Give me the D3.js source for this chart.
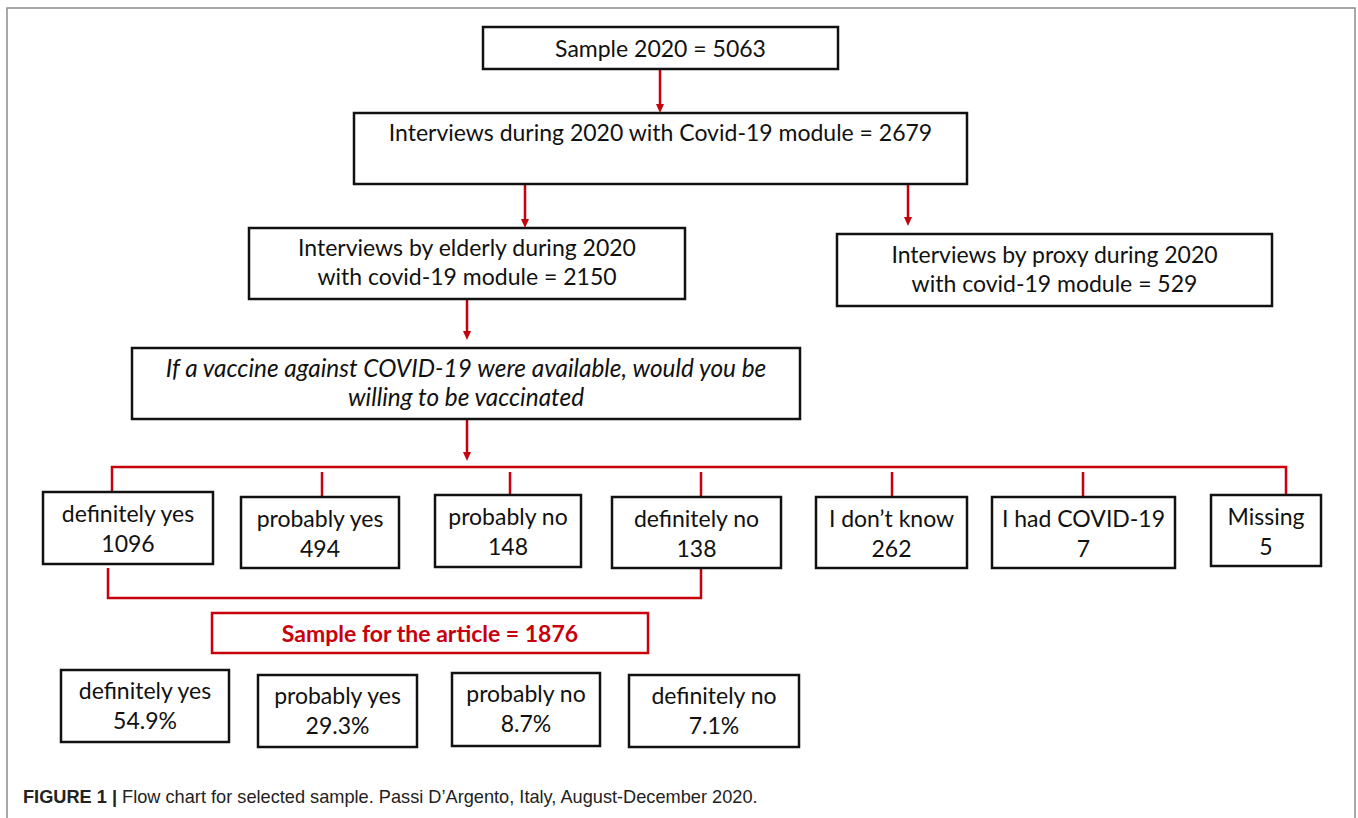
<!DOCTYPE html>
<html>
<head>
<meta charset="utf-8">
<script src="https://cdn.jsdelivr.net/npm/d3@7"></script>
<style>
  body { margin: 0; background: #fff; }
  svg { display: block; }
</style>
</head>
<body>
<div id="chart"></div>
<script>
// counts
const sampleTotal = 5063
const covidModule = 2679
const elderlyCount = 2150
const proxyCount = 529
const questionLines = [
  'If a vaccine against COVID-19 were available, would you be',
  'willing to be vaccinated'
]
const responses = ['definitely yes', 'probably yes', 'probably no', 'definitely no',
  'I don’t know', 'I had COVID-19', 'Missing']
const responseCounts = [1096, 494, 148, 138, 262, 7, 5]
const articleSample = 1876
const articleResponses = ['definitely yes', 'probably yes', 'probably no', 'definitely no']
const articlePercents = [54.9, 29.3, 8.7, 7.1]

// layout of the boxes [x0, y0, x1, y1]
const responseBoxes = [
  [43, 492, 213, 564], [241, 497, 399, 568], [435, 495, 581, 567], [612, 497, 781, 568],
  [816, 497, 967, 568], [992, 497, 1175, 568], [1211, 495, 1321, 566]
]
const dropX = [112, 322, 510, 701, 892, 1083, 1286]
const articleBoxes = [
  [61, 670, 229, 742], [258, 675, 417, 747], [452, 673, 600, 746], [629, 675, 799, 747]
]

const red = '#c8000c'
const boxFont = 'Lato, "Open Sans", sans-serif'
const fontSize = 23

const width = 1358
const height = 818

const svg = d3.select('#chart').append('svg')
  .attr('width', width)
  .attr('height', height)

// outer frame
svg.append('rect')
  .attr('x', 7).attr('y', 8)
  .attr('width', 1348).attr('height', 840)
  .attr('fill', 'none')
  .attr('stroke', '#8c8c8c')
  .attr('stroke-width', 1.5)

const links = svg.append('g')
  .attr('stroke', red)
  .attr('stroke-width', 2.5)
  .attr('fill', 'none')

const boxes = svg.append('g')

function box (b, lines, opts = {}) {
  let [x0, y0, x1, y1] = b
  let g = boxes.append('g')
  g.append('rect')
    .attr('x', x0).attr('y', y0)
    .attr('width', x1 - x0).attr('height', y1 - y0)
    .attr('fill', '#fff')
    .attr('stroke', opts.stroke || '#111')
    .attr('stroke-width', 2.5)
  let base = opts.base || (y0 + 30)
  let step = opts.step || 30
  g.selectAll('text')
    .data(lines)
    .enter()
    .append('text')
    .attr('x', (x0 + x1) / 2)
    .attr('y', (d, i) => base + i * step)
    .attr('text-anchor', 'middle')
    .attr('font-family', boxFont)
    .attr('font-size', opts.size || fontSize)
    .attr('font-style', opts.italic ? 'italic' : 'normal')
    .attr('font-weight', opts.bold ? 700 : 400)
    .attr('fill', opts.color || '#111')
    .text(d => d)
}

function arrow (x, y0, y1) {
  links.append('line')
    .attr('x1', x).attr('y1', y0)
    .attr('x2', x).attr('y2', y1 - 7)
  svg.append('path')
    .attr('d', `M${x - 4},${y1 - 9}L${x + 4},${y1 - 9}L${x},${y1}Z`)
    .attr('fill', red)
}

// top part of the chart
arrow(660, 69, 113)
arrow(525, 184, 228)
arrow(908, 184, 226)
arrow(467, 299, 340)
arrow(467, 419, 461)

box([483, 27, 838, 69], [`Sample 2020 = ${sampleTotal}`], {base: 57})
box([354, 113, 967, 184], [`Interviews during 2020 with Covid-19 module = ${covidModule}`], {base: 141})
box([249, 228, 685, 299],
  ['Interviews by elderly during 2020', `with covid-19 module = ${elderlyCount}`], {base: 256, step: 29})
box([837, 234, 1272, 306],
  ['Interviews by proxy during 2020', `with covid-19 module = ${proxyCount}`], {base: 263, step: 29})
box([132, 348, 800, 419], questionLines, {base: 377, step: 29, italic: true, size: 24.4})

// split into the answers
links.append('path')
  .attr('d', `M${dropX[0]},492V467H${dropX[dropX.length - 1]}V495`)
dropX.slice(1, -1).forEach((x, i) => {
  links.append('line')
    .attr('x1', x).attr('y1', 472)
    .attr('x2', x).attr('y2', responseBoxes[i + 1][1])
})

responses.forEach((r, i) => {
  box(responseBoxes[i], [r, String(responseCounts[i])])
})

// bracket round the four kept answers
links.append('path')
  .attr('d', `M108,568V598H${dropX[3]}V568`)

box([212, 613, 648, 653], [`Sample for the article = ${articleSample}`],
  {base: 642, stroke: red, color: red, bold: true, size: 23})

articleResponses.forEach((r, i) => {
  box(articleBoxes[i], [r, articlePercents[i].toFixed(1) + '%'],
    {base: articleBoxes[i][1] + 29})
})

// caption
let caption = svg.append('text')
  .attr('x', 23).attr('y', 803)
  .attr('font-family', '"Liberation Sans", Arial, sans-serif')
  .attr('font-size', 18.2)
  .attr('fill', '#222')
caption.append('tspan')
  .attr('font-weight', 700)
  .text('FIGURE 1 | ')
caption.append('tspan')
  .text('Flow chart for selected sample. Passi D’Argento, Italy, August-December 2020.')
</script>
</body>
</html>
